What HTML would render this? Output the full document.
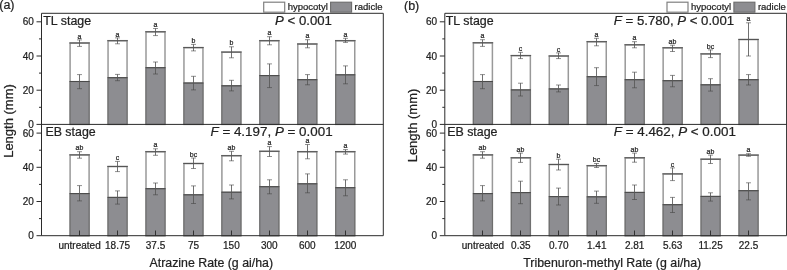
<!DOCTYPE html>
<html><head><meta charset="utf-8"><style>
html,body{margin:0;padding:0;background:#fff;width:787px;height:270px;overflow:hidden;font-family:"Liberation Sans",sans-serif}
svg{display:block;filter:blur(0.25px)} text{stroke:#222;stroke-width:0.22px}
</style></head><body>
<svg width="787" height="270" viewBox="0 0 787 270" font-family="&quot;Liberation Sans&quot;, sans-serif">
<rect x="70.1" y="43" width="19" height="81.4" fill="#fff" stroke="#999999" stroke-width="1.5"/>
<path d="M69.35 43H89.85" stroke="#555" stroke-width="1.1"/>
<rect x="70.1" y="81.5" width="19" height="42.9" fill="#8d8d91" stroke="#6c6c6c" stroke-width="1.1"/>
<path d="M69.6 81.5H89.6" stroke="#4a4a4a" stroke-width="1"/>
<path d="M79.5 39.9V46.4" stroke="#575757" stroke-width="0.85" fill="none"/>
<path d="M77 39.9H82M77 46.4H82" stroke="#454545" stroke-width="0.6" fill="none"/>
<path d="M79.5 74.6V88.7" stroke="#575757" stroke-width="0.85" fill="none"/>
<path d="M77 74.6H82M77 88.7H82" stroke="#454545" stroke-width="0.6" fill="none"/>
<text x="79.5" y="38.5" font-size="7" text-anchor="middle" fill="#222">a</text>
<rect x="108.05" y="40.7" width="19" height="83.7" fill="#fff" stroke="#999999" stroke-width="1.5"/>
<path d="M107.3 40.7H127.8" stroke="#555" stroke-width="1.1"/>
<rect x="108.05" y="77.7" width="19" height="46.7" fill="#8d8d91" stroke="#6c6c6c" stroke-width="1.1"/>
<path d="M107.55 77.7H127.55" stroke="#4a4a4a" stroke-width="1"/>
<path d="M117.5 37.9V43.8" stroke="#575757" stroke-width="0.85" fill="none"/>
<path d="M115 37.9H120M115 43.8H120" stroke="#454545" stroke-width="0.6" fill="none"/>
<path d="M117.5 74.4V80.7" stroke="#575757" stroke-width="0.85" fill="none"/>
<path d="M115 74.4H120M115 80.7H120" stroke="#454545" stroke-width="0.6" fill="none"/>
<text x="117.5" y="36.5" font-size="7" text-anchor="middle" fill="#222">a</text>
<rect x="146" y="31.8" width="19" height="92.6" fill="#fff" stroke="#999999" stroke-width="1.5"/>
<path d="M145.25 31.8H165.75" stroke="#555" stroke-width="1.1"/>
<rect x="146" y="67.7" width="19" height="56.7" fill="#8d8d91" stroke="#6c6c6c" stroke-width="1.1"/>
<path d="M145.5 67.7H165.5" stroke="#4a4a4a" stroke-width="1"/>
<path d="M155.5 28.5V35.6" stroke="#575757" stroke-width="0.85" fill="none"/>
<path d="M153 28.5H158M153 35.6H158" stroke="#454545" stroke-width="0.6" fill="none"/>
<path d="M155.5 62V74" stroke="#575757" stroke-width="0.85" fill="none"/>
<path d="M153 62H158M153 74H158" stroke="#454545" stroke-width="0.6" fill="none"/>
<text x="155.5" y="27.1" font-size="7" text-anchor="middle" fill="#222">a</text>
<rect x="183.95" y="47.6" width="19" height="76.8" fill="#fff" stroke="#999999" stroke-width="1.5"/>
<path d="M183.2 47.6H203.7" stroke="#555" stroke-width="1.1"/>
<rect x="183.95" y="83" width="19" height="41.4" fill="#8d8d91" stroke="#6c6c6c" stroke-width="1.1"/>
<path d="M183.45 83H203.45" stroke="#4a4a4a" stroke-width="1"/>
<path d="M193.5 44.4V50.9" stroke="#575757" stroke-width="0.85" fill="none"/>
<path d="M191 44.4H196M191 50.9H196" stroke="#454545" stroke-width="0.6" fill="none"/>
<path d="M193.5 76.3V89.9" stroke="#575757" stroke-width="0.85" fill="none"/>
<path d="M191 76.3H196M191 89.9H196" stroke="#454545" stroke-width="0.6" fill="none"/>
<text x="193.5" y="43" font-size="7" text-anchor="middle" fill="#222">b</text>
<rect x="221.9" y="52.1" width="19" height="72.3" fill="#fff" stroke="#999999" stroke-width="1.5"/>
<path d="M221.15 52.1H241.65" stroke="#555" stroke-width="1.1"/>
<rect x="221.9" y="85.8" width="19" height="38.6" fill="#8d8d91" stroke="#6c6c6c" stroke-width="1.1"/>
<path d="M221.4 85.8H241.4" stroke="#4a4a4a" stroke-width="1"/>
<path d="M231.5 46.8V57.8" stroke="#575757" stroke-width="0.85" fill="none"/>
<path d="M229 46.8H234M229 57.8H234" stroke="#454545" stroke-width="0.6" fill="none"/>
<path d="M231.5 80.3V90.9" stroke="#575757" stroke-width="0.85" fill="none"/>
<path d="M229 80.3H234M229 90.9H234" stroke="#454545" stroke-width="0.6" fill="none"/>
<text x="231.5" y="45.4" font-size="7" text-anchor="middle" fill="#222">b</text>
<rect x="259.85" y="40.7" width="19" height="83.7" fill="#fff" stroke="#999999" stroke-width="1.5"/>
<path d="M259.1 40.7H279.6" stroke="#555" stroke-width="1.1"/>
<rect x="259.85" y="75.6" width="19" height="48.8" fill="#8d8d91" stroke="#6c6c6c" stroke-width="1.1"/>
<path d="M259.35 75.6H279.35" stroke="#4a4a4a" stroke-width="1"/>
<path d="M269.5 36.7V44.8" stroke="#575757" stroke-width="0.85" fill="none"/>
<path d="M267 36.7H272M267 44.8H272" stroke="#454545" stroke-width="0.6" fill="none"/>
<path d="M269.5 63.9V87.6" stroke="#575757" stroke-width="0.85" fill="none"/>
<path d="M267 63.9H272M267 87.6H272" stroke="#454545" stroke-width="0.6" fill="none"/>
<text x="269.5" y="35.3" font-size="7" text-anchor="middle" fill="#222">a</text>
<rect x="297.8" y="44" width="19" height="80.4" fill="#fff" stroke="#999999" stroke-width="1.5"/>
<path d="M297.05 44H317.55" stroke="#555" stroke-width="1.1"/>
<rect x="297.8" y="79.7" width="19" height="44.7" fill="#8d8d91" stroke="#6c6c6c" stroke-width="1.1"/>
<path d="M297.3 79.7H317.3" stroke="#4a4a4a" stroke-width="1"/>
<path d="M307.5 39.7V47.8" stroke="#575757" stroke-width="0.85" fill="none"/>
<path d="M305 39.7H310M305 47.8H310" stroke="#454545" stroke-width="0.6" fill="none"/>
<path d="M307.5 74.6V84.8" stroke="#575757" stroke-width="0.85" fill="none"/>
<path d="M305 74.6H310M305 84.8H310" stroke="#454545" stroke-width="0.6" fill="none"/>
<text x="307.5" y="38.3" font-size="7" text-anchor="middle" fill="#222">a</text>
<rect x="335.75" y="40.7" width="19" height="83.7" fill="#fff" stroke="#999999" stroke-width="1.5"/>
<path d="M335 40.7H355.5" stroke="#555" stroke-width="1.1"/>
<rect x="335.75" y="74.8" width="19" height="49.6" fill="#8d8d91" stroke="#6c6c6c" stroke-width="1.1"/>
<path d="M335.25 74.8H355.25" stroke="#4a4a4a" stroke-width="1"/>
<path d="M345.5 38.3V42.4" stroke="#575757" stroke-width="0.85" fill="none"/>
<path d="M343 38.3H348M343 42.4H348" stroke="#454545" stroke-width="0.6" fill="none"/>
<path d="M345.5 65.9V83.8" stroke="#575757" stroke-width="0.85" fill="none"/>
<path d="M343 65.9H348M343 83.8H348" stroke="#454545" stroke-width="0.6" fill="none"/>
<text x="345.5" y="36.9" font-size="7" text-anchor="middle" fill="#222">a</text>
<rect x="70.1" y="154.9" width="19" height="80.8" fill="#fff" stroke="#999999" stroke-width="1.5"/>
<path d="M69.35 154.9H89.85" stroke="#555" stroke-width="1.1"/>
<rect x="70.1" y="193.6" width="19" height="42.1" fill="#8d8d91" stroke="#6c6c6c" stroke-width="1.1"/>
<path d="M69.6 193.6H89.6" stroke="#4a4a4a" stroke-width="1"/>
<path d="M79.5 151.7V158.2" stroke="#575757" stroke-width="0.85" fill="none"/>
<path d="M77 151.7H82M77 158.2H82" stroke="#454545" stroke-width="0.6" fill="none"/>
<path d="M79.5 185.6V200.9" stroke="#575757" stroke-width="0.85" fill="none"/>
<path d="M77 185.6H82M77 200.9H82" stroke="#454545" stroke-width="0.6" fill="none"/>
<text x="79.5" y="150.3" font-size="7" text-anchor="middle" fill="#222">ab</text>
<path d="M79.5 235.7V230.5" stroke="#333" stroke-width="1"/>
<rect x="108.05" y="166.5" width="19" height="69.2" fill="#fff" stroke="#999999" stroke-width="1.5"/>
<path d="M107.3 166.5H127.8" stroke="#555" stroke-width="1.1"/>
<rect x="108.05" y="197.4" width="19" height="38.3" fill="#8d8d91" stroke="#6c6c6c" stroke-width="1.1"/>
<path d="M107.55 197.4H127.55" stroke="#4a4a4a" stroke-width="1"/>
<path d="M117.5 161.4V171.6" stroke="#575757" stroke-width="0.85" fill="none"/>
<path d="M115 161.4H120M115 171.6H120" stroke="#454545" stroke-width="0.6" fill="none"/>
<path d="M117.5 190.9V204.1" stroke="#575757" stroke-width="0.85" fill="none"/>
<path d="M115 190.9H120M115 204.1H120" stroke="#454545" stroke-width="0.6" fill="none"/>
<text x="117.5" y="160" font-size="7" text-anchor="middle" fill="#222">c</text>
<path d="M117.5 235.7V230.5" stroke="#333" stroke-width="1"/>
<rect x="146" y="151.7" width="19" height="84" fill="#fff" stroke="#999999" stroke-width="1.5"/>
<path d="M145.25 151.7H165.75" stroke="#555" stroke-width="1.1"/>
<rect x="146" y="188.7" width="19" height="47" fill="#8d8d91" stroke="#6c6c6c" stroke-width="1.1"/>
<path d="M145.5 188.7H165.5" stroke="#4a4a4a" stroke-width="1"/>
<path d="M155.5 148.8V155.3" stroke="#575757" stroke-width="0.85" fill="none"/>
<path d="M153 148.8H158M153 155.3H158" stroke="#454545" stroke-width="0.6" fill="none"/>
<path d="M155.5 183V194.8" stroke="#575757" stroke-width="0.85" fill="none"/>
<path d="M153 183H158M153 194.8H158" stroke="#454545" stroke-width="0.6" fill="none"/>
<text x="155.5" y="147.4" font-size="7" text-anchor="middle" fill="#222">a</text>
<path d="M155.5 235.7V230.5" stroke="#333" stroke-width="1"/>
<rect x="183.95" y="163.5" width="19" height="72.2" fill="#fff" stroke="#999999" stroke-width="1.5"/>
<path d="M183.2 163.5H203.7" stroke="#555" stroke-width="1.1"/>
<rect x="183.95" y="194.8" width="19" height="40.9" fill="#8d8d91" stroke="#6c6c6c" stroke-width="1.1"/>
<path d="M183.45 194.8H203.45" stroke="#4a4a4a" stroke-width="1"/>
<path d="M193.5 158V168.5" stroke="#575757" stroke-width="0.85" fill="none"/>
<path d="M191 158H196M191 168.5H196" stroke="#454545" stroke-width="0.6" fill="none"/>
<path d="M193.5 185.9V203.5" stroke="#575757" stroke-width="0.85" fill="none"/>
<path d="M191 185.9H196M191 203.5H196" stroke="#454545" stroke-width="0.6" fill="none"/>
<text x="193.5" y="156.6" font-size="7" text-anchor="middle" fill="#222">bc</text>
<path d="M193.5 235.7V230.5" stroke="#333" stroke-width="1"/>
<rect x="221.9" y="155.7" width="19" height="80" fill="#fff" stroke="#999999" stroke-width="1.5"/>
<path d="M221.15 155.7H241.65" stroke="#555" stroke-width="1.1"/>
<rect x="221.9" y="192.2" width="19" height="43.5" fill="#8d8d91" stroke="#6c6c6c" stroke-width="1.1"/>
<path d="M221.4 192.2H241.4" stroke="#4a4a4a" stroke-width="1"/>
<path d="M231.5 151.3V160.8" stroke="#575757" stroke-width="0.85" fill="none"/>
<path d="M229 151.3H234M229 160.8H234" stroke="#454545" stroke-width="0.6" fill="none"/>
<path d="M231.5 185V198.9" stroke="#575757" stroke-width="0.85" fill="none"/>
<path d="M229 185H234M229 198.9H234" stroke="#454545" stroke-width="0.6" fill="none"/>
<text x="231.5" y="149.9" font-size="7" text-anchor="middle" fill="#222">ab</text>
<path d="M231.5 235.7V230.5" stroke="#333" stroke-width="1"/>
<rect x="259.85" y="151.3" width="19" height="84.4" fill="#fff" stroke="#999999" stroke-width="1.5"/>
<path d="M259.1 151.3H279.6" stroke="#555" stroke-width="1.1"/>
<rect x="259.85" y="186.7" width="19" height="49" fill="#8d8d91" stroke="#6c6c6c" stroke-width="1.1"/>
<path d="M259.35 186.7H279.35" stroke="#4a4a4a" stroke-width="1"/>
<path d="M269.5 146.6V156.5" stroke="#575757" stroke-width="0.85" fill="none"/>
<path d="M267 146.6H272M267 156.5H272" stroke="#454545" stroke-width="0.6" fill="none"/>
<path d="M269.5 179.8V193.8" stroke="#575757" stroke-width="0.85" fill="none"/>
<path d="M267 179.8H272M267 193.8H272" stroke="#454545" stroke-width="0.6" fill="none"/>
<text x="269.5" y="145.2" font-size="7" text-anchor="middle" fill="#222">a</text>
<path d="M269.5 235.7V230.5" stroke="#333" stroke-width="1"/>
<rect x="297.8" y="151.7" width="19" height="84" fill="#fff" stroke="#999999" stroke-width="1.5"/>
<path d="M297.05 151.7H317.55" stroke="#555" stroke-width="1.1"/>
<rect x="297.8" y="183.8" width="19" height="51.9" fill="#8d8d91" stroke="#6c6c6c" stroke-width="1.1"/>
<path d="M297.3 183.8H317.3" stroke="#4a4a4a" stroke-width="1"/>
<path d="M307.5 144.5V158.8" stroke="#575757" stroke-width="0.85" fill="none"/>
<path d="M305 144.5H310M305 158.8H310" stroke="#454545" stroke-width="0.6" fill="none"/>
<path d="M307.5 173.9V192.8" stroke="#575757" stroke-width="0.85" fill="none"/>
<path d="M305 173.9H310M305 192.8H310" stroke="#454545" stroke-width="0.6" fill="none"/>
<text x="307.5" y="143.1" font-size="7" text-anchor="middle" fill="#222">a</text>
<path d="M307.5 235.7V230.5" stroke="#333" stroke-width="1"/>
<rect x="335.75" y="151.7" width="19" height="84" fill="#fff" stroke="#999999" stroke-width="1.5"/>
<path d="M335 151.7H355.5" stroke="#555" stroke-width="1.1"/>
<rect x="335.75" y="187.7" width="19" height="48" fill="#8d8d91" stroke="#6c6c6c" stroke-width="1.1"/>
<path d="M335.25 187.7H355.25" stroke="#4a4a4a" stroke-width="1"/>
<path d="M345.5 149.6V154.1" stroke="#575757" stroke-width="0.85" fill="none"/>
<path d="M343 149.6H348M343 154.1H348" stroke="#454545" stroke-width="0.6" fill="none"/>
<path d="M345.5 179.8V195.8" stroke="#575757" stroke-width="0.85" fill="none"/>
<path d="M343 179.8H348M343 195.8H348" stroke="#454545" stroke-width="0.6" fill="none"/>
<text x="345.5" y="148.2" font-size="7" text-anchor="middle" fill="#222">a</text>
<path d="M345.5 235.7V230.5" stroke="#333" stroke-width="1"/>
<path d="M41.5 13.3H383.3V235.7H41.5Z M41.5 124.4H383.3" stroke="#2b2b2b" stroke-width="1" fill="none"/>
<path d="M36.5 124.4H41.5" stroke="#2b2b2b" stroke-width="1"/>
<text x="33.8" y="128" font-size="10" text-anchor="end" fill="#222">0</text>
<path d="M39 107.3H41.5" stroke="#2b2b2b" stroke-width="1"/>
<path d="M36.5 90.2H41.5" stroke="#2b2b2b" stroke-width="1"/>
<text x="33.8" y="93.8" font-size="10" text-anchor="end" fill="#222">20</text>
<path d="M39 73.1H41.5" stroke="#2b2b2b" stroke-width="1"/>
<path d="M36.5 56H41.5" stroke="#2b2b2b" stroke-width="1"/>
<text x="33.8" y="59.6" font-size="10" text-anchor="end" fill="#222">40</text>
<path d="M39 38.9H41.5" stroke="#2b2b2b" stroke-width="1"/>
<path d="M36.5 21.8H41.5" stroke="#2b2b2b" stroke-width="1"/>
<text x="33.8" y="25.4" font-size="10" text-anchor="end" fill="#222">60</text>
<path d="M36.5 235.7H41.5" stroke="#2b2b2b" stroke-width="1"/>
<text x="33.8" y="239.3" font-size="10" text-anchor="end" fill="#222">0</text>
<path d="M39 218.6H41.5" stroke="#2b2b2b" stroke-width="1"/>
<path d="M36.5 201.5H41.5" stroke="#2b2b2b" stroke-width="1"/>
<text x="33.8" y="205.1" font-size="10" text-anchor="end" fill="#222">20</text>
<path d="M39 184.4H41.5" stroke="#2b2b2b" stroke-width="1"/>
<path d="M36.5 167.3H41.5" stroke="#2b2b2b" stroke-width="1"/>
<text x="33.8" y="170.9" font-size="10" text-anchor="end" fill="#222">40</text>
<path d="M39 150.2H41.5" stroke="#2b2b2b" stroke-width="1"/>
<path d="M36.5 133.1H41.5" stroke="#2b2b2b" stroke-width="1"/>
<text x="33.8" y="136.7" font-size="10" text-anchor="end" fill="#222">60</text>
<text x="43.3" y="24.8" font-size="12.4" fill="#222">TL stage</text>
<text x="45.4" y="136.1" font-size="12.4" fill="#222">EB stage</text>
<text x="331.9" y="25" font-size="13.2" text-anchor="end" fill="#222"><tspan font-style="italic">P</tspan> &lt; 0.001</text>
<text x="332.6" y="136.2" font-size="13.4" text-anchor="end" fill="#222"><tspan font-style="italic">F</tspan> = 4.197, <tspan font-style="italic">P</tspan> = 0.001</text>
<text x="79.6" y="249" font-size="10" text-anchor="middle" fill="#222">untreated</text>
<text x="117.55" y="249" font-size="10" text-anchor="middle" fill="#222">18.75</text>
<text x="155.5" y="249" font-size="10" text-anchor="middle" fill="#222">37.5</text>
<text x="193.45" y="249" font-size="10" text-anchor="middle" fill="#222">75</text>
<text x="231.4" y="249" font-size="10" text-anchor="middle" fill="#222">150</text>
<text x="269.35" y="249" font-size="10" text-anchor="middle" fill="#222">300</text>
<text x="307.3" y="249" font-size="10" text-anchor="middle" fill="#222">600</text>
<text x="345.25" y="249" font-size="10" text-anchor="middle" fill="#222">1200</text>
<text x="211.3" y="267.2" font-size="12.35" text-anchor="middle" fill="#222">Atrazine Rate (g ai/ha)</text>
<rect x="263.7" y="2.2" width="21" height="10" fill="#fff" stroke="#808080" stroke-width="1.2"/>
<text x="287.7" y="10.4" font-size="9.5" fill="#222">hypocotyl</text>
<rect x="330.6" y="2.2" width="21" height="10" fill="#8d8d91" stroke="#6c6c6c" stroke-width="1.1"/>
<text x="354.6" y="10.4" font-size="9.5" fill="#222">radicle</text>
<text x="-0.75" y="8.5" font-size="12.5" fill="#222">(a)</text>
<text transform="translate(13.2,121) rotate(-90)" font-size="13" text-anchor="middle" fill="#222">Length (mm)</text>
<rect x="473.4" y="42.8" width="19" height="81.6" fill="#fff" stroke="#999999" stroke-width="1.5"/>
<path d="M472.65 42.8H493.15" stroke="#555" stroke-width="1.1"/>
<rect x="473.4" y="81.5" width="19" height="42.9" fill="#8d8d91" stroke="#6c6c6c" stroke-width="1.1"/>
<path d="M472.9 81.5H492.9" stroke="#4a4a4a" stroke-width="1"/>
<path d="M482.5 39.7V46.4" stroke="#575757" stroke-width="0.85" fill="none"/>
<path d="M480 39.7H485M480 46.4H485" stroke="#454545" stroke-width="0.6" fill="none"/>
<path d="M482.5 74.6V88.7" stroke="#575757" stroke-width="0.85" fill="none"/>
<path d="M480 74.6H485M480 88.7H485" stroke="#454545" stroke-width="0.6" fill="none"/>
<text x="482.5" y="38.3" font-size="7" text-anchor="middle" fill="#222">a</text>
<rect x="511.35" y="55.6" width="19" height="68.8" fill="#fff" stroke="#999999" stroke-width="1.5"/>
<path d="M510.6 55.6H531.1" stroke="#555" stroke-width="1.1"/>
<rect x="511.35" y="89.9" width="19" height="34.5" fill="#8d8d91" stroke="#6c6c6c" stroke-width="1.1"/>
<path d="M510.85 89.9H530.85" stroke="#4a4a4a" stroke-width="1"/>
<path d="M520.5 52.3V58.6" stroke="#575757" stroke-width="0.85" fill="none"/>
<path d="M518 52.3H523M518 58.6H523" stroke="#454545" stroke-width="0.6" fill="none"/>
<path d="M520.5 83.2V96" stroke="#575757" stroke-width="0.85" fill="none"/>
<path d="M518 83.2H523M518 96H523" stroke="#454545" stroke-width="0.6" fill="none"/>
<text x="520.5" y="50.9" font-size="7" text-anchor="middle" fill="#222">c</text>
<rect x="549.3" y="56" width="19" height="68.4" fill="#fff" stroke="#999999" stroke-width="1.5"/>
<path d="M548.55 56H569.05" stroke="#555" stroke-width="1.1"/>
<rect x="549.3" y="88.9" width="19" height="35.5" fill="#8d8d91" stroke="#6c6c6c" stroke-width="1.1"/>
<path d="M548.8 88.9H568.8" stroke="#4a4a4a" stroke-width="1"/>
<path d="M558.5 52.9V58.6" stroke="#575757" stroke-width="0.85" fill="none"/>
<path d="M556 52.9H561M556 58.6H561" stroke="#454545" stroke-width="0.6" fill="none"/>
<path d="M558.5 85V91.9" stroke="#575757" stroke-width="0.85" fill="none"/>
<path d="M556 85H561M556 91.9H561" stroke="#454545" stroke-width="0.6" fill="none"/>
<text x="558.5" y="51.5" font-size="7" text-anchor="middle" fill="#222">c</text>
<rect x="587.25" y="41.7" width="19" height="82.7" fill="#fff" stroke="#999999" stroke-width="1.5"/>
<path d="M586.5 41.7H607" stroke="#555" stroke-width="1.1"/>
<rect x="587.25" y="76.7" width="19" height="47.7" fill="#8d8d91" stroke="#6c6c6c" stroke-width="1.1"/>
<path d="M586.75 76.7H606.75" stroke="#4a4a4a" stroke-width="1"/>
<path d="M596.5 38.3V45.8" stroke="#575757" stroke-width="0.85" fill="none"/>
<path d="M594 38.3H599M594 45.8H599" stroke="#454545" stroke-width="0.6" fill="none"/>
<path d="M596.5 67.7V85.6" stroke="#575757" stroke-width="0.85" fill="none"/>
<path d="M594 67.7H599M594 85.6H599" stroke="#454545" stroke-width="0.6" fill="none"/>
<text x="596.5" y="36.9" font-size="7" text-anchor="middle" fill="#222">a</text>
<rect x="625.2" y="44.8" width="19" height="79.6" fill="#fff" stroke="#999999" stroke-width="1.5"/>
<path d="M624.45 44.8H644.95" stroke="#555" stroke-width="1.1"/>
<rect x="625.2" y="79.7" width="19" height="44.7" fill="#8d8d91" stroke="#6c6c6c" stroke-width="1.1"/>
<path d="M624.7 79.7H644.7" stroke="#4a4a4a" stroke-width="1"/>
<path d="M634.5 41.7V47.8" stroke="#575757" stroke-width="0.85" fill="none"/>
<path d="M632 41.7H637M632 47.8H637" stroke="#454545" stroke-width="0.6" fill="none"/>
<path d="M634.5 72.2V87.8" stroke="#575757" stroke-width="0.85" fill="none"/>
<path d="M632 72.2H637M632 87.8H637" stroke="#454545" stroke-width="0.6" fill="none"/>
<text x="634.5" y="40.3" font-size="7" text-anchor="middle" fill="#222">a</text>
<rect x="663.15" y="47.8" width="19" height="76.6" fill="#fff" stroke="#999999" stroke-width="1.5"/>
<path d="M662.4 47.8H682.9" stroke="#555" stroke-width="1.1"/>
<rect x="663.15" y="80.7" width="19" height="43.7" fill="#8d8d91" stroke="#6c6c6c" stroke-width="1.1"/>
<path d="M662.65 80.7H682.65" stroke="#4a4a4a" stroke-width="1"/>
<path d="M672.5 45.2V51.5" stroke="#575757" stroke-width="0.85" fill="none"/>
<path d="M670 45.2H675M670 51.5H675" stroke="#454545" stroke-width="0.6" fill="none"/>
<path d="M672.5 75.4V86.8" stroke="#575757" stroke-width="0.85" fill="none"/>
<path d="M670 75.4H675M670 86.8H675" stroke="#454545" stroke-width="0.6" fill="none"/>
<text x="672.5" y="43.8" font-size="7" text-anchor="middle" fill="#222">ab</text>
<rect x="701.1" y="53.9" width="19" height="70.5" fill="#fff" stroke="#999999" stroke-width="1.5"/>
<path d="M700.35 53.9H720.85" stroke="#555" stroke-width="1.1"/>
<rect x="701.1" y="84.8" width="19" height="39.6" fill="#8d8d91" stroke="#6c6c6c" stroke-width="1.1"/>
<path d="M700.6 84.8H720.6" stroke="#4a4a4a" stroke-width="1"/>
<path d="M710.5 49.9V57.6" stroke="#575757" stroke-width="0.85" fill="none"/>
<path d="M708 49.9H713M708 57.6H713" stroke="#454545" stroke-width="0.6" fill="none"/>
<path d="M710.5 78.7V91.1" stroke="#575757" stroke-width="0.85" fill="none"/>
<path d="M708 78.7H713M708 91.1H713" stroke="#454545" stroke-width="0.6" fill="none"/>
<text x="710.5" y="48.5" font-size="7" text-anchor="middle" fill="#222">bc</text>
<rect x="739.05" y="39.5" width="19" height="84.9" fill="#fff" stroke="#999999" stroke-width="1.5"/>
<path d="M738.3 39.5H758.8" stroke="#555" stroke-width="1.1"/>
<rect x="739.05" y="79.7" width="19" height="44.7" fill="#8d8d91" stroke="#6c6c6c" stroke-width="1.1"/>
<path d="M738.55 79.7H758.55" stroke="#4a4a4a" stroke-width="1"/>
<path d="M748.5 22.8V56" stroke="#575757" stroke-width="0.85" fill="none"/>
<path d="M746 22.8H751M746 56H751" stroke="#454545" stroke-width="0.6" fill="none"/>
<path d="M748.5 74.6V85" stroke="#575757" stroke-width="0.85" fill="none"/>
<path d="M746 74.6H751M746 85H751" stroke="#454545" stroke-width="0.6" fill="none"/>
<text x="748.5" y="21.4" font-size="7" text-anchor="middle" fill="#222">a</text>
<rect x="473.4" y="154.9" width="19" height="80.8" fill="#fff" stroke="#999999" stroke-width="1.5"/>
<path d="M472.65 154.9H493.15" stroke="#555" stroke-width="1.1"/>
<rect x="473.4" y="193.6" width="19" height="42.1" fill="#8d8d91" stroke="#6c6c6c" stroke-width="1.1"/>
<path d="M472.9 193.6H492.9" stroke="#4a4a4a" stroke-width="1"/>
<path d="M482.5 151.7V158.2" stroke="#575757" stroke-width="0.85" fill="none"/>
<path d="M480 151.7H485M480 158.2H485" stroke="#454545" stroke-width="0.6" fill="none"/>
<path d="M482.5 185.6V200.9" stroke="#575757" stroke-width="0.85" fill="none"/>
<path d="M480 185.6H485M480 200.9H485" stroke="#454545" stroke-width="0.6" fill="none"/>
<text x="482.5" y="150.3" font-size="7" text-anchor="middle" fill="#222">ab</text>
<path d="M482.5 235.7V230.5" stroke="#333" stroke-width="1"/>
<rect x="511.35" y="157.8" width="19" height="77.9" fill="#fff" stroke="#999999" stroke-width="1.5"/>
<path d="M510.6 157.8H531.1" stroke="#555" stroke-width="1.1"/>
<rect x="511.35" y="192.6" width="19" height="43.1" fill="#8d8d91" stroke="#6c6c6c" stroke-width="1.1"/>
<path d="M510.85 192.6H530.85" stroke="#4a4a4a" stroke-width="1"/>
<path d="M520.5 153.1V162.4" stroke="#575757" stroke-width="0.85" fill="none"/>
<path d="M518 153.1H523M518 162.4H523" stroke="#454545" stroke-width="0.6" fill="none"/>
<path d="M520.5 181.2V203.7" stroke="#575757" stroke-width="0.85" fill="none"/>
<path d="M518 181.2H523M518 203.7H523" stroke="#454545" stroke-width="0.6" fill="none"/>
<text x="520.5" y="151.7" font-size="7" text-anchor="middle" fill="#222">ab</text>
<path d="M520.5 235.7V230.5" stroke="#333" stroke-width="1"/>
<rect x="549.3" y="164.5" width="19" height="71.2" fill="#fff" stroke="#999999" stroke-width="1.5"/>
<path d="M548.55 164.5H569.05" stroke="#555" stroke-width="1.1"/>
<rect x="549.3" y="196.6" width="19" height="39.1" fill="#8d8d91" stroke="#6c6c6c" stroke-width="1.1"/>
<path d="M548.8 196.6H568.8" stroke="#4a4a4a" stroke-width="1"/>
<path d="M558.5 159.2V170" stroke="#575757" stroke-width="0.85" fill="none"/>
<path d="M556 159.2H561M556 170H561" stroke="#454545" stroke-width="0.6" fill="none"/>
<path d="M558.5 188.1V205" stroke="#575757" stroke-width="0.85" fill="none"/>
<path d="M556 188.1H561M556 205H561" stroke="#454545" stroke-width="0.6" fill="none"/>
<text x="558.5" y="157.8" font-size="7" text-anchor="middle" fill="#222">b</text>
<path d="M558.5 235.7V230.5" stroke="#333" stroke-width="1"/>
<rect x="587.25" y="165.7" width="19" height="70" fill="#fff" stroke="#999999" stroke-width="1.5"/>
<path d="M586.5 165.7H607" stroke="#555" stroke-width="1.1"/>
<rect x="587.25" y="196.8" width="19" height="38.9" fill="#8d8d91" stroke="#6c6c6c" stroke-width="1.1"/>
<path d="M586.75 196.8H606.75" stroke="#4a4a4a" stroke-width="1"/>
<path d="M596.5 163.5V167.5" stroke="#575757" stroke-width="0.85" fill="none"/>
<path d="M594 163.5H599M594 167.5H599" stroke="#454545" stroke-width="0.6" fill="none"/>
<path d="M596.5 191.1V203.3" stroke="#575757" stroke-width="0.85" fill="none"/>
<path d="M594 191.1H599M594 203.3H599" stroke="#454545" stroke-width="0.6" fill="none"/>
<text x="596.5" y="162.1" font-size="7" text-anchor="middle" fill="#222">bc</text>
<path d="M596.5 235.7V230.5" stroke="#333" stroke-width="1"/>
<rect x="625.2" y="157.8" width="19" height="77.9" fill="#fff" stroke="#999999" stroke-width="1.5"/>
<path d="M624.45 157.8H644.95" stroke="#555" stroke-width="1.1"/>
<rect x="625.2" y="192.4" width="19" height="43.3" fill="#8d8d91" stroke="#6c6c6c" stroke-width="1.1"/>
<path d="M624.7 192.4H644.7" stroke="#4a4a4a" stroke-width="1"/>
<path d="M634.5 153.1V162.2" stroke="#575757" stroke-width="0.85" fill="none"/>
<path d="M632 153.1H637M632 162.2H637" stroke="#454545" stroke-width="0.6" fill="none"/>
<path d="M634.5 185V199.5" stroke="#575757" stroke-width="0.85" fill="none"/>
<path d="M632 185H637M632 199.5H637" stroke="#454545" stroke-width="0.6" fill="none"/>
<text x="634.5" y="151.7" font-size="7" text-anchor="middle" fill="#222">ab</text>
<path d="M634.5 235.7V230.5" stroke="#333" stroke-width="1"/>
<rect x="663.15" y="173.9" width="19" height="61.8" fill="#fff" stroke="#999999" stroke-width="1.5"/>
<path d="M662.4 173.9H682.9" stroke="#555" stroke-width="1.1"/>
<rect x="663.15" y="204.7" width="19" height="31" fill="#8d8d91" stroke="#6c6c6c" stroke-width="1.1"/>
<path d="M662.65 204.7H682.65" stroke="#4a4a4a" stroke-width="1"/>
<path d="M672.5 167.9V180.6" stroke="#575757" stroke-width="0.85" fill="none"/>
<path d="M670 167.9H675M670 180.6H675" stroke="#454545" stroke-width="0.6" fill="none"/>
<path d="M672.5 197.4V212.5" stroke="#575757" stroke-width="0.85" fill="none"/>
<path d="M670 197.4H675M670 212.5H675" stroke="#454545" stroke-width="0.6" fill="none"/>
<text x="672.5" y="166.5" font-size="7" text-anchor="middle" fill="#222">c</text>
<path d="M672.5 235.7V230.5" stroke="#333" stroke-width="1"/>
<rect x="701.1" y="159.2" width="19" height="76.5" fill="#fff" stroke="#999999" stroke-width="1.5"/>
<path d="M700.35 159.2H720.85" stroke="#555" stroke-width="1.1"/>
<rect x="701.1" y="196.4" width="19" height="39.3" fill="#8d8d91" stroke="#6c6c6c" stroke-width="1.1"/>
<path d="M700.6 196.4H720.6" stroke="#4a4a4a" stroke-width="1"/>
<path d="M710.5 155.1V163.5" stroke="#575757" stroke-width="0.85" fill="none"/>
<path d="M708 155.1H713M708 163.5H713" stroke="#454545" stroke-width="0.6" fill="none"/>
<path d="M710.5 192.8V201.1" stroke="#575757" stroke-width="0.85" fill="none"/>
<path d="M708 192.8H713M708 201.1H713" stroke="#454545" stroke-width="0.6" fill="none"/>
<text x="710.5" y="153.7" font-size="7" text-anchor="middle" fill="#222">ab</text>
<path d="M710.5 235.7V230.5" stroke="#333" stroke-width="1"/>
<rect x="739.05" y="155.1" width="19" height="80.6" fill="#fff" stroke="#999999" stroke-width="1.5"/>
<path d="M738.3 155.1H758.8" stroke="#555" stroke-width="1.1"/>
<rect x="739.05" y="190.7" width="19" height="45" fill="#8d8d91" stroke="#6c6c6c" stroke-width="1.1"/>
<path d="M738.55 190.7H758.55" stroke="#4a4a4a" stroke-width="1"/>
<path d="M748.5 153.7V156.3" stroke="#575757" stroke-width="0.85" fill="none"/>
<path d="M746 153.7H751M746 156.3H751" stroke="#454545" stroke-width="0.6" fill="none"/>
<path d="M748.5 182.8V199.9" stroke="#575757" stroke-width="0.85" fill="none"/>
<path d="M746 182.8H751M746 199.9H751" stroke="#454545" stroke-width="0.6" fill="none"/>
<text x="748.5" y="152.3" font-size="7" text-anchor="middle" fill="#222">a</text>
<path d="M748.5 235.7V230.5" stroke="#333" stroke-width="1"/>
<path d="M444.8 13.3H786.6V235.7H444.8Z M444.8 124.4H786.6" stroke="#2b2b2b" stroke-width="1" fill="none"/>
<path d="M439.8 124.4H444.8" stroke="#2b2b2b" stroke-width="1"/>
<text x="437.1" y="128" font-size="10" text-anchor="end" fill="#222">0</text>
<path d="M442.3 107.3H444.8" stroke="#2b2b2b" stroke-width="1"/>
<path d="M439.8 90.2H444.8" stroke="#2b2b2b" stroke-width="1"/>
<text x="437.1" y="93.8" font-size="10" text-anchor="end" fill="#222">20</text>
<path d="M442.3 73.1H444.8" stroke="#2b2b2b" stroke-width="1"/>
<path d="M439.8 56H444.8" stroke="#2b2b2b" stroke-width="1"/>
<text x="437.1" y="59.6" font-size="10" text-anchor="end" fill="#222">40</text>
<path d="M442.3 38.9H444.8" stroke="#2b2b2b" stroke-width="1"/>
<path d="M439.8 21.8H444.8" stroke="#2b2b2b" stroke-width="1"/>
<text x="437.1" y="25.4" font-size="10" text-anchor="end" fill="#222">60</text>
<path d="M439.8 235.7H444.8" stroke="#2b2b2b" stroke-width="1"/>
<text x="437.1" y="239.3" font-size="10" text-anchor="end" fill="#222">0</text>
<path d="M442.3 218.6H444.8" stroke="#2b2b2b" stroke-width="1"/>
<path d="M439.8 201.5H444.8" stroke="#2b2b2b" stroke-width="1"/>
<text x="437.1" y="205.1" font-size="10" text-anchor="end" fill="#222">20</text>
<path d="M442.3 184.4H444.8" stroke="#2b2b2b" stroke-width="1"/>
<path d="M439.8 167.3H444.8" stroke="#2b2b2b" stroke-width="1"/>
<text x="437.1" y="170.9" font-size="10" text-anchor="end" fill="#222">40</text>
<path d="M442.3 150.2H444.8" stroke="#2b2b2b" stroke-width="1"/>
<path d="M439.8 133.1H444.8" stroke="#2b2b2b" stroke-width="1"/>
<text x="437.1" y="136.7" font-size="10" text-anchor="end" fill="#222">60</text>
<text x="445.8" y="24.8" font-size="12.4" fill="#222">TL stage</text>
<text x="447.2" y="136.1" font-size="12.4" fill="#222">EB stage</text>
<text x="734.1" y="25" font-size="13.2" text-anchor="end" fill="#222"><tspan font-style="italic">F</tspan> = 5.780, <tspan font-style="italic">P</tspan> &lt; 0.001</text>
<text x="735.9" y="136.2" font-size="13.4" text-anchor="end" fill="#222"><tspan font-style="italic">F</tspan> = 4.462, <tspan font-style="italic">P</tspan> &lt; 0.001</text>
<text x="482.9" y="249" font-size="10" text-anchor="middle" fill="#222">untreated</text>
<text x="520.85" y="249" font-size="10" text-anchor="middle" fill="#222">0.35</text>
<text x="558.8" y="249" font-size="10" text-anchor="middle" fill="#222">0.70</text>
<text x="596.75" y="249" font-size="10" text-anchor="middle" fill="#222">1.41</text>
<text x="634.7" y="249" font-size="10" text-anchor="middle" fill="#222">2.81</text>
<text x="672.65" y="249" font-size="10" text-anchor="middle" fill="#222">5.63</text>
<text x="710.6" y="249" font-size="10" text-anchor="middle" fill="#222">11.25</text>
<text x="748.55" y="249" font-size="10" text-anchor="middle" fill="#222">22.5</text>
<text x="612.2" y="266.5" font-size="12.35" text-anchor="middle" fill="#222">Tribenuron-methyl Rate (g ai/ha)</text>
<rect x="667" y="2.2" width="21" height="10" fill="#fff" stroke="#808080" stroke-width="1.2"/>
<text x="691" y="10.4" font-size="9.5" fill="#222">hypocotyl</text>
<rect x="733.9" y="2.2" width="21" height="10" fill="#8d8d91" stroke="#6c6c6c" stroke-width="1.1"/>
<text x="757.9" y="10.4" font-size="9.5" fill="#222">radicle</text>
<text x="404" y="10.45" font-size="12.5" fill="#222">(b)</text>
<text transform="translate(416.5,125.5) rotate(-90)" font-size="13" text-anchor="middle" fill="#222">Length (mm)</text>
</svg>
</body></html>
